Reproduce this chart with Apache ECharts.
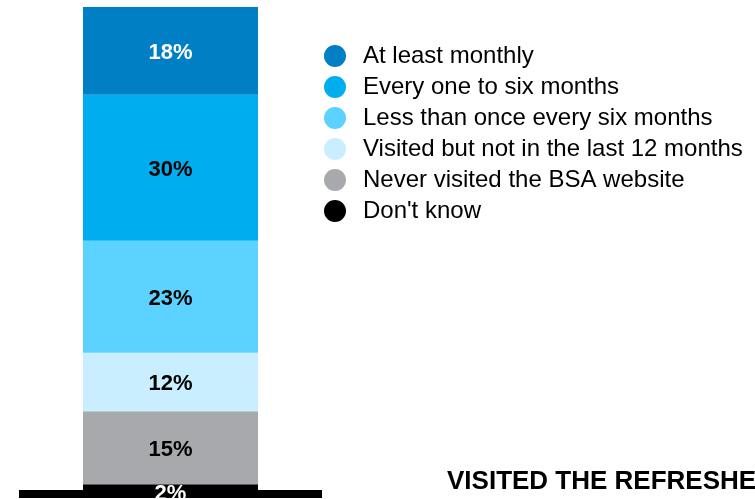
<!DOCTYPE html>
<html>
<head>
<meta charset="utf-8">
<script src="https://cdn.jsdelivr.net/npm/echarts@6/dist/echarts.min.js"></script>
<style>
  html, body { margin: 0; padding: 0; background: #ffffff; }
  #chart { width: 755px; height: 499px; }
</style>
</head>
<body>
<div id="chart"></div>
<script>
// Website visit frequency, stacked from the bottom up
const categories = ['All'];
const seriesNames = [
  "Don't know",
  'Never visited the BSA website',
  'Visited but not in the last 12 months',
  'Less than once every six months',
  'Every one to six months',
  'At least monthly'
];
const seriesValues = [2, 15, 12, 23, 30, 18];
const seriesColors = ['#000000', '#A7A9AC', '#C8EEFF', '#5BD2FF', '#00AEEF', '#007FC4'];
const labelColors = ['#ffffff', '#000000', '#000000', '#000000', '#000000', '#ffffff'];
const legendOrder = [
  'At least monthly',
  'Every one to six months',
  'Less than once every six months',
  'Visited but not in the last 12 months',
  'Never visited the BSA website',
  "Don't know"
];
const headingText = 'VISITED THE REFRESHED';

const chart = echarts.init(document.getElementById('chart'), null, { renderer: 'canvas' });

const series = seriesNames.map((name, i) => ({
  name: name,
  type: 'bar',
  stack: 'total',
  barWidth: 175,
  data: [seriesValues[i]],
  itemStyle: { color: seriesColors[i] },
  label: {
    show: true,
    position: 'inside',
    offset: i === 0 ? [0, 5] : [0, 2],
    formatter: '{c}%',
    color: labelColors[i],
    fontFamily: 'Liberation Sans, Arial, sans-serif',
    fontWeight: 'bold',
    fontSize: 22
  }
}));

chart.setOption({
  animation: false,
  backgroundColor: '#ffffff',
  grid: { left: 19, right: 433, top: 7, bottom: 5, containLabel: false },
  xAxis: {
    type: 'category',
    data: categories,
    axisLine: { show: true, lineStyle: { color: '#000000', width: 8, cap: 'butt' } },
    axisTick: { show: false },
    axisLabel: { show: false }
  },
  yAxis: {
    type: 'value',
    min: 0,
    max: 100,
    show: false
  },
  legend: {
    data: legendOrder,
    orient: 'vertical',
    left: 324,
    top: 44,
    icon: 'circle',
    itemWidth: 22,
    itemHeight: 22,
    itemGap: 7,
    padding: 0,
    textStyle: {
      fontFamily: 'Liberation Sans, Arial, sans-serif',
      fontSize: 24,
      lineHeight: 22,
      color: '#000000',
      padding: [0, 0, 0, 12]
    }
  },
  graphic: [{
    type: 'text',
    left: 447,
    top: 469,
    style: {
      text: headingText,
      fill: '#000000',
      font: 'bold 26px "Liberation Sans", Arial, sans-serif'
    }
  }],
  series: series
});
</script>
</body>
</html>
